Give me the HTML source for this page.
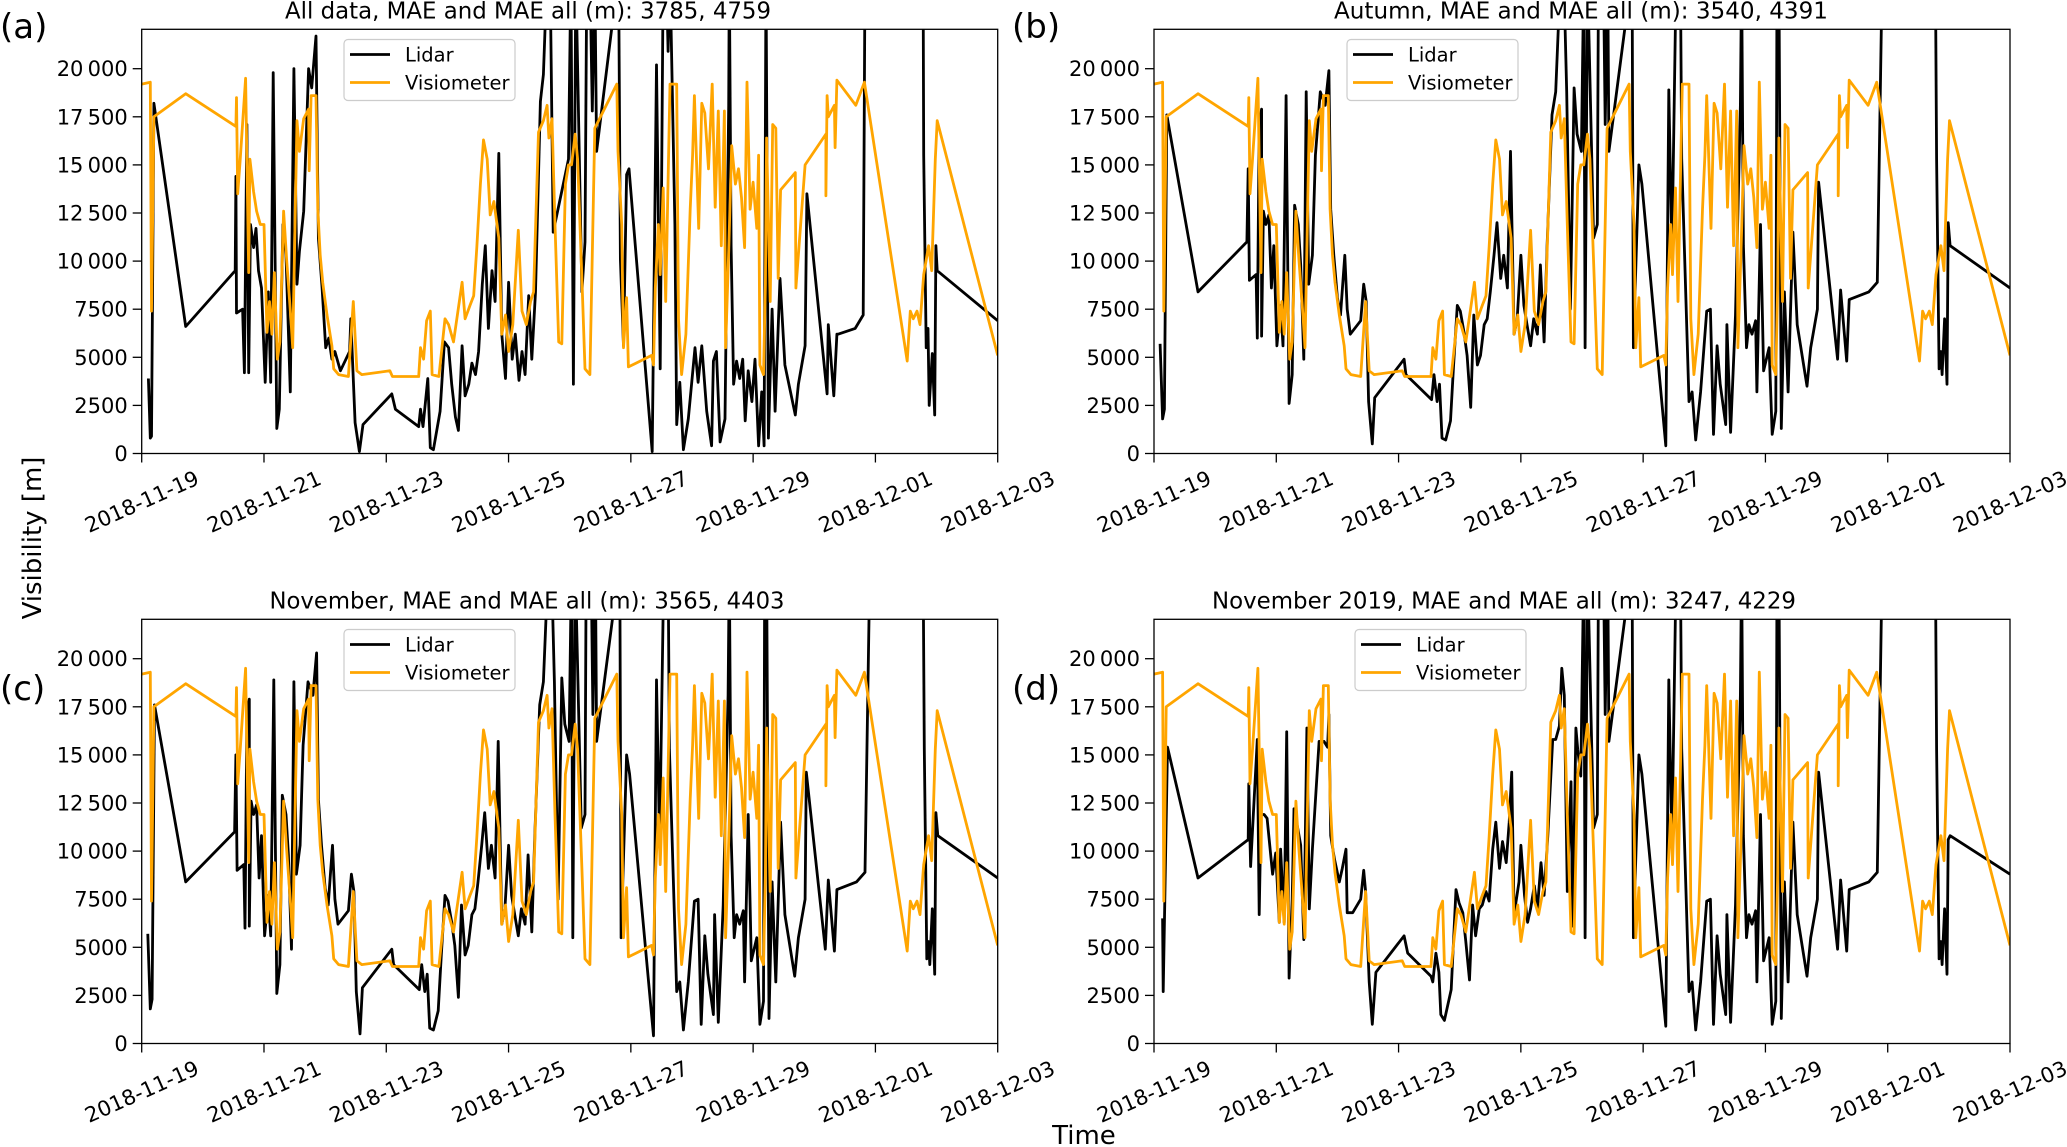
<!DOCTYPE html>
<html><head><meta charset="utf-8"><style>
html,body{margin:0;padding:0;background:#fff;}
svg{display:block;font-family:"DejaVu Sans","Liberation Sans",sans-serif;}
</style></head><body>
<svg id="fig" width="2067" height="1147" viewBox="0 0 2067 1147" xmlns="http://www.w3.org/2000/svg"></svg>
<script>
// ---- data (x = days since 2018-11-19, y = visibility in km) ----
const xTickLabels = ["2018-11-19","2018-11-21","2018-11-23","2018-11-25","2018-11-27","2018-11-29","2018-12-01","2018-12-03"];
const yTickValues = [0,2500,5000,7500,10000,12500,15000,17500,20000];
const yTickLabels = ["0","2500","5000","7500","10\u2009000","12\u2009500","15\u2009000","17\u2009500","20\u2009000"];
const panelTitles = ["All data, MAE and MAE all (m): 3785, 4759","Autumn, MAE and MAE all (m): 3540, 4391","November, MAE and MAE all (m): 3565, 4403","November 2019, MAE and MAE all (m): 3247, 4229"];
const panelLetters = ["(a)","(b)","(c)","(d)"];

const visioDays = [0,0.14,0.16,0.20,0.72,1.54,1.55,1.57,1.61,1.70,1.75,1.77,1.83,1.88,1.94,2.00,2.05,2.09,2.13,2.17,2.22,2.26,2.32,2.37,2.44,2.47,2.54,2.58,2.65,2.73,2.74,2.77,2.85,2.88,2.92,2.96,3.03,3.11,3.14,3.22,3.38,3.46,3.52,3.60,4.06,4.10,4.53,4.56,4.61,4.66,4.72,4.75,4.86,4.96,5.02,5.10,5.24,5.29,5.37,5.43,5.48,5.54,5.59,5.65,5.70,5.76,5.84,5.89,5.95,6.00,6.07,6.16,6.22,6.29,6.36,6.41,6.49,6.57,6.63,6.66,6.71,6.76,6.82,6.87,6.93,6.98,7.03,7.09,7.13,7.20,7.25,7.33,7.41,7.77,7.79,7.85,7.88,7.93,7.96,8.34,8.37,8.40,8.45,8.48,8.53,8.57,8.64,8.75,8.78,8.83,8.90,8.97,9.01,9.04,9.11,9.16,9.21,9.27,9.33,9.38,9.43,9.48,9.53,9.55,9.60,9.65,9.71,9.76,9.81,9.86,9.90,9.95,10.00,10.06,10.09,10.11,10.17,10.20,10.22,10.28,10.32,10.37,10.41,10.45,10.69,10.70,10.85,11.19,11.19,11.21,11.23,11.33,11.34,11.37,11.68,11.82,12.52,12.57,12.62,12.68,12.73,12.79,12.87,12.92,12.98,13.01,14.0];
const visioVals = [19.2,19.3,7.4,17.5,18.7,17.0,18.5,13.5,15.2,19.5,9.4,15.3,13.6,12.6,11.9,11.9,6.3,7.9,6.2,9.4,4.9,5.8,12.6,10.1,7.0,5.5,17.3,15.7,17.4,17.9,14.7,18.6,18.6,12.7,10.3,8.9,7.2,5.6,4.4,4.1,4.0,7.9,4.3,4.1,4.3,4.0,4.0,5.5,4.9,6.9,7.4,4.1,4.0,7.0,6.7,5.8,8.9,7.0,7.7,8.2,10.7,14.0,16.3,15.3,12.4,13.1,11.2,6.2,7.2,5.3,6.7,11.6,7.4,6.7,7.9,8.4,16.7,17.3,18.1,16.4,17.4,11.9,5.8,5.7,14.0,15.0,15.0,16.6,15.3,9.1,4.4,4.1,16.9,19.2,15.7,11.9,5.5,8.1,4.5,5.1,4.6,8.6,11.9,9.3,13.8,7.9,19.2,19.2,7.0,4.1,6.2,12.7,15.5,18.6,11.7,18.2,17.7,14.8,19.2,12.8,17.8,10.8,17.8,5.5,10.5,16.0,14.0,14.8,13.3,10.7,19.3,12.7,14.1,11.7,15.5,4.6,4.1,8.8,16.4,7.9,17.1,16.9,9.1,13.7,14.6,8.6,15.0,16.6,13.4,18.6,17.5,18.1,15.9,19.4,18.1,19.3,4.8,7.4,7.0,7.4,6.7,9.3,10.8,9.5,15.3,17.3,5.1];

const lidarADays = [0.11,0.14,0.16,0.20,0.72,1.53,1.54,1.55,1.65,1.68,1.72,1.75,1.78,1.83,1.87,1.91,1.96,2.02,2.07,2.11,2.15,2.21,2.25,2.31,2.36,2.43,2.49,2.54,2.58,2.65,2.73,2.78,2.85,2.89,2.95,3.01,3.06,3.11,3.16,3.25,3.40,3.42,3.49,3.56,3.62,4.09,4.15,4.53,4.56,4.60,4.68,4.72,4.77,4.88,4.95,5.02,5.07,5.13,5.18,5.24,5.29,5.35,5.40,5.46,5.51,5.57,5.62,5.67,5.73,5.78,5.84,5.89,5.95,6.00,6.06,6.11,6.17,6.22,6.27,6.33,6.38,6.44,6.52,6.57,6.63,6.68,6.73,6.98,7.02,7.06,7.10,7.20,7.25,7.28,7.33,7.37,7.41,7.44,7.80,7.83,7.88,7.93,7.97,8.35,8.42,8.48,8.53,8.58,8.61,8.64,8.72,8.75,8.80,8.86,8.94,9.05,9.10,9.16,9.24,9.32,9.35,9.40,9.46,9.54,9.60,9.61,9.64,9.68,9.73,9.78,9.83,9.87,9.92,9.98,10.03,10.09,10.14,10.18,10.21,10.25,10.31,10.36,10.44,10.52,10.69,10.74,10.85,10.88,11.21,11.23,11.32,11.37,11.39,11.67,11.80,11.83,12.78,12.79,12.83,12.86,12.88,12.93,12.97,12.99,13.01,14.0];
const lidarAVals = [3.9,0.8,0.9,18.2,6.6,9.5,14.4,7.3,7.5,4.2,17.1,4.2,11.9,10.7,11.7,9.5,8.6,3.7,8.4,3.7,19.8,1.3,2.3,11.9,10.3,3.2,20.0,8.8,10.5,12.6,20.0,19.0,21.7,11.2,8.6,5.5,6.0,4.9,5.3,4.3,5.3,7.0,1.6,0.1,1.5,3.1,2.3,1.4,2.3,1.4,3.9,0.3,0.2,2.2,5.8,5.5,3.6,1.9,1.2,5.6,3.0,3.6,4.7,4.1,5.3,8.8,10.8,6.5,9.5,7.9,15.6,6.2,3.9,8.9,4.9,6.2,3.8,5.3,4.1,8.2,4.9,8.4,18.3,19.7,25,25,11.5,15.3,25,3.6,25,8.4,11.0,25,25,17.8,25,15.7,25,10.1,5.6,14.5,14.8,0.1,20.2,4.4,25,25,20.9,25,11.9,1.5,3.7,0.2,1.8,5.5,3.7,5.6,2.2,0.4,4.8,5.3,0.6,1.8,18.1,25,10.8,3.6,4.8,3.9,4.9,1.7,4.3,2.7,4.9,0.4,3.2,0.4,25,0.8,7.5,2.2,9.1,4.6,2.0,3.6,5.6,13.5,3.1,6.7,3.0,6.2,6.2,6.5,7.2,25,25,15.5,5.5,6.5,2.5,5.2,2.0,10.8,9.5,6.9];

const lidarBDays = [0.10,0.14,0.17,0.21,0.72,1.52,1.54,1.56,1.67,1.69,1.72,1.76,1.76,1.79,1.83,1.88,1.92,1.96,2.01,2.07,2.11,2.16,2.21,2.26,2.30,2.36,2.40,2.45,2.49,2.53,2.59,2.64,2.72,2.80,2.86,2.89,2.94,3.00,3.05,3.12,3.16,3.21,3.38,3.43,3.47,3.51,3.57,3.61,4.09,4.12,4.54,4.58,4.63,4.67,4.71,4.77,4.85,4.90,4.96,5.01,5.07,5.12,5.18,5.23,5.29,5.34,5.40,5.45,5.50,5.56,5.61,5.67,5.72,5.78,5.83,5.89,5.94,6.00,6.05,6.10,6.16,6.21,6.27,6.32,6.38,6.43,6.51,6.57,6.65,6.70,6.75,6.81,6.87,6.92,6.99,7.03,7.05,7.09,7.19,7.25,7.27,7.35,7.38,7.42,7.44,7.82,7.84,7.93,7.98,8.37,8.42,8.47,8.54,8.61,8.63,8.75,8.80,8.86,8.94,9.04,9.10,9.15,9.21,9.26,9.35,9.37,9.43,9.51,9.59,9.61,9.64,9.69,9.73,9.78,9.84,9.86,9.92,9.97,10.06,10.11,10.17,10.19,10.22,10.26,10.31,10.37,10.45,10.52,10.68,10.74,10.85,10.87,11.18,11.23,11.33,11.37,11.69,11.83,11.91,12.78,12.80,12.84,12.87,12.89,12.93,12.97,12.99,13.02,14.0];
const lidarBVals = [5.7,1.8,2.3,17.6,8.4,11.0,14.8,9.0,9.3,6.0,17.1,17.9,6.1,12.6,11.9,12.4,8.6,10.8,5.6,7.7,5.6,18.6,2.6,4.1,12.9,11.9,9.8,4.9,18.8,8.8,10.3,15.5,18.8,18.1,19.9,12.7,10.3,8.1,7.2,10.3,7.5,6.2,6.9,8.8,7.9,2.7,0.5,2.9,4.9,4.1,2.8,4.1,2.7,3.6,0.8,0.7,1.7,4.6,7.7,7.4,6.3,5.1,2.4,7.2,4.6,5.1,6.7,7.0,8.4,10.3,12.0,9.1,10.3,8.6,15.7,6.2,7.0,10.3,7.7,6.7,5.6,7.0,6.2,9.8,5.8,10.8,17.6,18.8,25,25,18.8,7.5,19.0,16.6,15.7,25,5.5,25,11.2,11.9,25,25,17.1,25,15.7,25,5.5,15.0,14.0,0.4,18.9,10.3,25,25,15.3,2.7,3.2,0.7,3.2,7.4,7.5,1.0,5.6,3.6,1.5,6.7,1.1,7.2,18.1,25,10.8,5.5,6.7,6.2,6.9,3.2,11.9,4.3,5.5,1.0,2.2,25,25,1.3,8.4,3.2,11.5,6.7,3.5,5.5,7.5,14.1,4.9,8.5,4.8,8.0,8.4,8.9,25,25,15.3,4.4,5.3,4.1,7.0,3.6,12.0,10.8,8.6];

const lidarCDays = [0.10,0.14,0.17,0.21,0.72,1.52,1.54,1.56,1.67,1.69,1.72,1.76,1.76,1.79,1.83,1.88,1.92,1.96,2.01,2.07,2.11,2.16,2.21,2.26,2.30,2.36,2.40,2.45,2.49,2.53,2.59,2.64,2.72,2.80,2.86,2.89,2.94,3.00,3.05,3.12,3.16,3.21,3.38,3.43,3.47,3.51,3.57,3.61,4.09,4.12,4.54,4.58,4.63,4.67,4.71,4.77,4.85,4.90,4.96,5.01,5.07,5.12,5.18,5.23,5.29,5.34,5.40,5.45,5.50,5.56,5.61,5.67,5.72,5.78,5.83,5.89,5.94,6.00,6.05,6.10,6.16,6.21,6.27,6.32,6.38,6.43,6.51,6.57,6.65,6.70,6.75,6.81,6.87,6.92,6.99,7.03,7.05,7.09,7.19,7.25,7.27,7.35,7.38,7.42,7.44,7.82,7.84,7.93,7.98,8.37,8.42,8.47,8.54,8.61,8.63,8.75,8.80,8.86,8.94,9.04,9.10,9.15,9.21,9.26,9.35,9.37,9.43,9.51,9.59,9.61,9.64,9.69,9.73,9.78,9.84,9.86,9.92,9.97,10.06,10.11,10.17,10.19,10.22,10.26,10.31,10.37,10.45,10.52,10.68,10.74,10.85,10.87,11.18,11.23,11.33,11.37,11.69,11.83,11.91,12.78,12.80,12.84,12.87,12.89,12.93,12.97,12.99,13.02,14.0];
const lidarCVals = [5.7,1.8,2.3,17.6,8.4,11.0,15.0,9.0,9.3,6.0,17.1,17.9,6.1,12.6,11.9,12.4,8.6,10.8,5.6,7.7,5.6,18.9,2.6,4.1,12.9,11.9,9.8,4.9,18.8,8.8,10.3,15.5,18.8,18.1,20.3,12.7,10.3,8.1,7.2,10.3,7.5,6.2,6.9,8.8,7.9,2.7,0.5,2.9,4.9,4.1,2.8,4.1,2.7,3.6,0.8,0.7,1.7,4.6,7.7,7.4,6.3,5.1,2.4,7.2,4.6,5.1,6.7,7.0,8.4,10.3,12.0,9.1,10.3,8.6,15.7,6.2,7.0,10.3,7.7,6.7,5.6,7.0,6.2,9.8,5.8,10.8,17.6,18.8,25,25,18.8,7.5,19.0,16.6,15.7,25,5.5,25,11.2,11.9,25,25,17.1,25,15.7,25,5.5,15.0,14.0,0.4,18.9,10.3,25,25,15.3,2.7,3.2,0.7,3.2,7.4,7.5,1.0,5.6,3.6,1.5,6.7,1.1,7.2,18.1,25,10.8,5.5,6.7,6.2,6.9,3.2,11.9,4.3,5.5,1.0,2.2,25,25,1.3,8.4,3.2,11.5,6.7,3.5,5.5,7.5,14.1,4.9,8.5,4.8,8.0,8.4,8.9,25,25,15.3,4.4,5.3,4.1,7.0,3.6,12.0,10.8,8.6];

const lidarDDays = [0.14,0.15,0.22,0.72,1.54,1.55,1.58,1.69,1.72,1.75,1.80,1.85,1.94,1.99,2.05,2.07,2.13,2.17,2.21,2.26,2.29,2.35,2.40,2.45,2.50,2.54,2.59,2.70,2.78,2.84,2.86,2.89,2.95,3.03,3.08,3.14,3.16,3.25,3.38,3.43,3.46,3.52,3.57,3.63,4.09,4.15,4.53,4.56,4.61,4.66,4.69,4.75,4.86,4.94,4.99,5.05,5.10,5.16,5.21,5.26,5.32,5.37,5.43,5.48,5.54,5.59,5.65,5.70,5.76,5.81,5.85,5.89,5.97,6.00,6.06,6.11,6.16,6.22,6.27,6.33,6.38,6.44,6.52,6.57,6.63,6.67,6.71,6.76,6.82,6.85,6.90,6.93,6.98,7.03,7.05,7.09,7.19,7.25,7.27,7.35,7.38,7.42,7.44,7.82,7.84,7.93,7.98,8.37,8.42,8.47,8.54,8.61,8.63,8.75,8.80,8.86,8.94,9.04,9.10,9.15,9.21,9.26,9.35,9.37,9.43,9.51,9.59,9.61,9.64,9.69,9.73,9.78,9.84,9.86,9.92,9.97,10.06,10.11,10.17,10.19,10.22,10.26,10.31,10.37,10.45,10.52,10.68,10.74,10.85,10.87,11.18,11.23,11.33,11.37,11.69,11.83,11.91,12.78,12.80,12.84,12.87,12.89,12.93,12.97,12.99,13.02,14.0];
const lidarDVals = [6.5,2.7,15.4,8.6,10.6,13.5,9.2,15.8,6.7,11.9,11.9,11.7,8.8,9.9,6.3,10.1,6.3,16.2,3.4,7.5,12.2,11.2,10.3,5.4,16.4,7.0,10.1,15.7,15.7,15.4,17.1,10.8,9.6,8.4,9.1,10.1,6.8,6.8,7.5,9.0,7.9,3.2,1.0,3.7,5.6,4.7,3.5,3.2,4.7,3.7,1.5,1.2,2.8,8.0,7.3,6.8,5.3,3.3,7.2,5.6,7.0,7.2,7.9,7.4,10.1,11.5,9.1,10.5,9.4,11.5,14.1,6.7,8.4,10.3,7.7,6.3,7.0,8.2,7.0,9.4,7.7,10.8,15.8,15.8,16.5,19.5,18.1,7.9,13.6,6.1,16.4,15.3,13.9,25,5.5,25,11.2,11.9,25,25,17.1,25,15.7,25,5.5,15.0,14.0,0.9,18.9,10.3,25,25,15.3,2.7,3.2,0.7,3.2,7.4,7.5,1.0,5.6,3.6,1.5,6.7,1.1,7.2,18.1,25,10.8,5.5,6.7,6.2,6.9,3.2,11.9,4.3,5.5,1.0,2.2,25,25,1.3,8.4,3.2,11.5,6.7,3.5,5.5,7.5,14.1,4.9,8.5,4.8,8.0,8.4,8.9,25,25,15.3,4.4,5.3,4.1,7.0,3.6,10.6,10.8,8.8];

const lidarDaysAll = [lidarADays,lidarBDays,lidarCDays,lidarDDays];
const lidarValsAll = [lidarAVals,lidarBVals,lidarCVals,lidarDVals];

// ---- layout ----
const NS = "http://www.w3.org/2000/svg";
const svg = document.getElementById("fig");
const panels = [
  {x0:141.7,x1:997.7,top:29.3,zero:453.5,lx:344,ly:39.5,letterX:0,letterY:38,tc:528,tw:486},
  {x0:1154,x1:2010,top:29.3,zero:453.5,lx:1347,ly:39.5,letterX:1012,letterY:38,tc:1581,tw:494},
  {x0:141.7,x1:997.7,top:619.3,zero:1043.5,lx:344,ly:629.5,letterX:0,letterY:700,tc:527,tw:515},
  {x0:1154,x1:2010,top:619.3,zero:1043.5,lx:1355,ly:629.5,letterX:1012,letterY:700,tc:1504,tw:584}
];
const XMAX = 14, YMAX = 22.048;
function el(tag, attrs, parent){
  const e = document.createElementNS(NS, tag);
  for (const k in attrs) e.setAttribute(k, attrs[k]);
  (parent||svg).appendChild(e);
  return e;
}
function txt(str, attrs, parent){ const t = el("text", attrs, parent); t.textContent = str; return t; }

panels.forEach((p, i) => {
  const xs = d => p.x0 + (d / XMAX) * (p.x1 - p.x0);
  const ys = v => p.zero - (v / YMAX) * (p.zero - p.top);
  const g = el("g", {});
  
  
  const cp = el("clipPath", {id: "clip" + i}, g);
  el("rect", {x: p.x0, y: p.top, width: p.x1 - p.x0, height: p.zero - p.top}, cp);

  const t = txt(panelTitles[i], {x: p.tc, y: p.top - 11, "text-anchor": "middle", "font-size": 23, fill: "#000", textLength: p.tw, lengthAdjust: "spacingAndGlyphs"}, g);
  
  
  const L = txt(panelLetters[i], {x: p.letterX, y: p.letterY, "font-size": 34, fill: "#000"}, g);
  
  

  function series(days, vals, color, name){
    let d = "";
    days.forEach((x, k) => { d += (k ? "L" : "M") + xs(x).toFixed(1) + " " + ys(vals[k]).toFixed(1); });
    const path = el("path", {d: d, fill: "none", stroke: color, "stroke-width": 2.8, "stroke-linejoin": "round", "clip-path": "url(#clip" + i + ")"}, g);
    
    
  }
  series(lidarDaysAll[i], lidarValsAll[i], "#000000", "lidar-line");
  series(visioDays, visioVals, "#FFA500", "visiometer-line");

  const fr = el("rect", {x: p.x0, y: p.top, width: p.x1 - p.x0, height: p.zero - p.top, fill: "none", stroke: "#000", "stroke-width": 1.3}, g);
  
  

  yTickValues.forEach((v, k) => {
    const y = ys(v / 1000);
    el("line", {x1: p.x0 - 9, x2: p.x0, y1: y, y2: y, stroke: "#000", "stroke-width": 1.3}, g);
    const tl = txt(yTickLabels[k], {x: p.x0 - 14, y: y + 7.5, "text-anchor": "end", "font-size": 21, fill: "#000"}, g);
    
    
  });
  xTickLabels.forEach((lab, k) => {
    const x = xs(k * 2);
    el("line", {x1: x, x2: x, y1: p.zero, y2: p.zero + 9, stroke: "#000", "stroke-width": 1.3}, g);
    const cy = p.zero + 48;
    const tl = txt(lab, {x: x, y: cy + 7.5, "text-anchor": "middle", "font-size": 21, fill: "#000", transform: "rotate(-24 " + x + " " + cy + ")"}, g);
    
    
  });

  const lg = el("g", {}, g);
  
  
  el("rect", {x: p.lx, y: p.ly, width: 171, height: 61, rx: 4, fill: "#fff", "fill-opacity": 0.8, stroke: "#ccc", "stroke-width": 1.2}, lg);
  el("line", {x1: p.lx + 6, x2: p.lx + 46, y1: p.ly + 15, y2: p.ly + 15, stroke: "#000", "stroke-width": 2.8}, lg);
  el("line", {x1: p.lx + 6, x2: p.lx + 46, y1: p.ly + 43, y2: p.ly + 43, stroke: "#FFA500", "stroke-width": 2.8}, lg);
  const e1 = txt("Lidar", {x: p.lx + 61, y: p.ly + 22, "font-size": 19.5, fill: "#000"}, lg);
  
  
  const e2 = txt("Visiometer", {x: p.lx + 61, y: p.ly + 50, "font-size": 19.5, fill: "#000"}, lg);
  
  
});

const yl = txt("Visibility [m]", {x: 0, y: 0, "text-anchor": "middle", "font-size": 26, fill: "#000", transform: "translate(41 538) rotate(-90)"});


const xl = txt("Time", {x: 1084, y: 1144, "text-anchor": "middle", "font-size": 26, fill: "#000"});


</script>
</body></html>
